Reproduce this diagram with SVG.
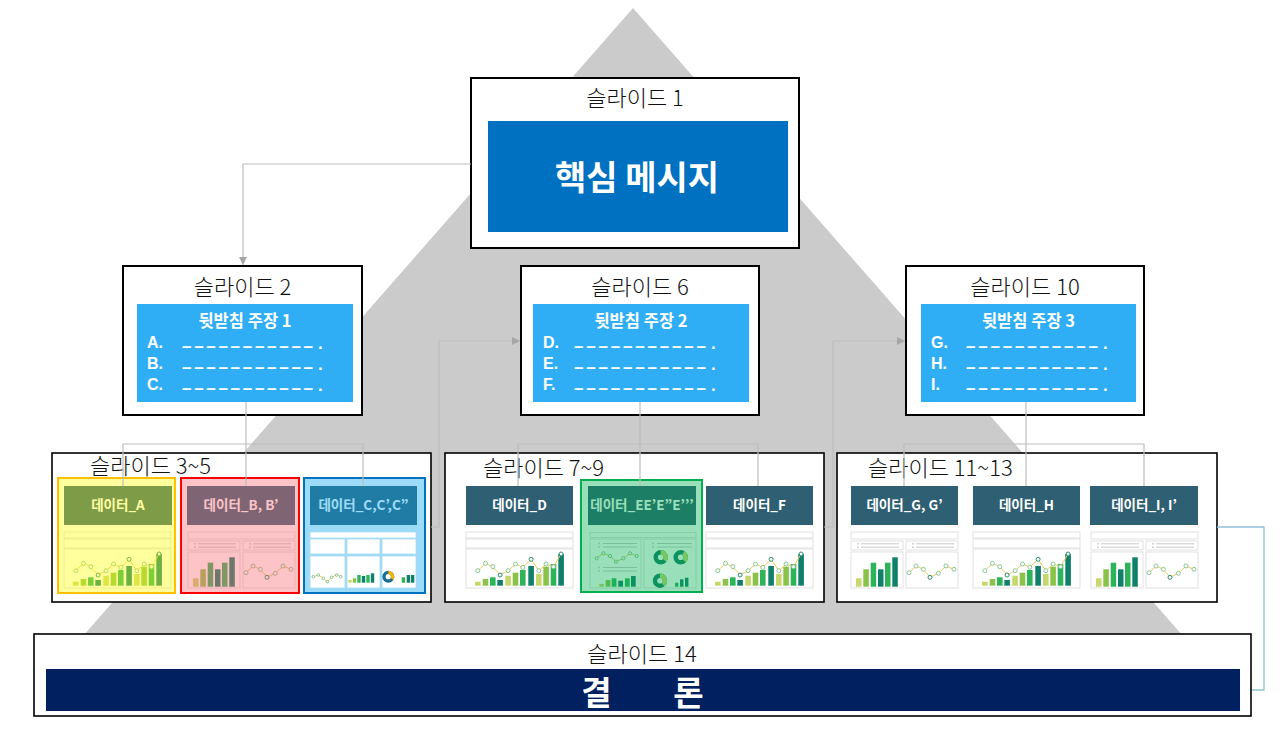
<svg xmlns="http://www.w3.org/2000/svg" xmlns:xlink="http://www.w3.org/1999/xlink" width="1280" height="736" viewBox="0 0 1280 736">
<style>
.kr{font-family:"Noto Sans CJK KR","Noto Sans",sans-serif}
.lbl{font-family:"Noto Sans CJK KR","Noto Sans",sans-serif;font-size:22px;font-weight:300;fill:#111}
.mid{text-anchor:middle}
.box{fill:#fff;stroke:#000;stroke-width:2}
.box2{fill:#fff;stroke:#000;stroke-width:1.6}
.sub{fill:#30AEF5}
.st{font-family:"Noto Sans CJK KR","Noto Sans",sans-serif;font-size:16.5px;font-weight:700;fill:#fff}
.ab{font-family:"Liberation Sans",Arial,sans-serif;font-size:16px;font-weight:700;fill:#fff}
.dash{font-family:"Liberation Sans",sans-serif;font-size:17px;font-weight:700;fill:#fff}
.hdr{fill:#2F5F73}
.ht{font-family:"Noto Sans CJK KR","Noto Sans",sans-serif;font-size:13.5px;font-weight:700;fill:#fff;text-anchor:middle}
.tb{fill:#fff;stroke:#DADADA;stroke-width:0.8}
.cell{fill:#fff;stroke:#A9DCF2;stroke-width:0.8}
.li{stroke:#BDBDBD;stroke-width:0.8}
.dot{fill:#D0D0D0}
.lime{fill:#C6D86B}
.grn{fill:#8BC34A}
.brt{fill:#2DB45A}
.teal{fill:#11806A}
.ln{fill:none;stroke:#F2C94C;stroke-width:1}
.cc{fill:#fff;stroke:#7CC08E;stroke-width:0.9}
.conn{fill:none;stroke:#BDBDBD;stroke-width:1.2}
</style>
<defs>
<marker id="arr" markerUnits="userSpaceOnUse" markerWidth="8" markerHeight="8" refX="8" refY="4" orient="auto">
<path d="M0,0 L8,4 L0,8 z" fill="#A6A6A6"/>
</marker>
<g id="combo">
<rect class="tb" x="0" y="1" width="107" height="6"/>
<rect class="tb" x="0" y="8" width="107" height="9"/>
<rect class="tb" x="0" y="18" width="107" height="39"/>
<rect class="lime" x="9" y="50.7" width="5.6" height="4"/>
<rect class="grn" x="16.7" y="48" width="5.6" height="6.7"/>
<rect class="brt" x="24" y="46.3" width="5.6" height="8.4"/>
<rect class="teal" x="31.3" y="49" width="5.6" height="5.7"/>
<rect class="lime" x="39.3" y="44.7" width="5.6" height="10"/>
<rect class="grn" x="46.7" y="41.7" width="5.6" height="13"/>
<rect class="brt" x="54" y="39" width="5.6" height="15.7"/>
<rect class="teal" x="62.3" y="35" width="5.6" height="19.7"/>
<rect class="lime" x="70" y="43" width="5.6" height="11.7"/>
<rect class="grn" x="77.3" y="35.7" width="5.6" height="19"/>
<rect class="brt" x="84.7" y="33" width="5.6" height="21.7"/>
<rect class="teal" x="92.3" y="23" width="5.6" height="31.7"/>
<polyline class="ln" points="11.8,39.7 19.5,32.3 26.8,35.7 34.1,44 42.1,39.7 49.5,33 56.8,36.3 65.1,28.3 72.8,39.7 80.1,33 87.5,35.7 95.1,23"/>
<g class="cc">
<circle cx="11.8" cy="39.7" r="2"/><circle cx="19.5" cy="32.3" r="2"/><circle cx="26.8" cy="35.7" r="2"/><circle cx="34.1" cy="44" r="2" stroke="#11806A"/><circle cx="42.1" cy="39.7" r="2"/><circle cx="49.5" cy="33" r="2"/><circle cx="56.8" cy="36.3" r="2"/><circle cx="65.1" cy="28.3" r="2" stroke="#11806A"/><circle cx="72.8" cy="39.7" r="2"/><circle cx="80.1" cy="33" r="2"/><circle cx="87.5" cy="35.7" r="2"/><circle cx="95.1" cy="23" r="2" stroke="#11806A"/>
</g>
</g>
<g id="split">
<rect class="tb" x="0" y="0" width="107" height="7"/>
<rect class="tb" x="0" y="9" width="52" height="9"/>
<rect class="tb" x="55" y="9" width="52" height="9"/>
<rect class="tb" x="0" y="20" width="52" height="36"/>
<rect class="tb" x="55" y="20" width="52" height="36"/>
<circle class="dot" cx="7" cy="11.8" r="1"/><circle class="dot" cx="7" cy="15.2" r="1"/>
<line class="li" x1="10" y1="11.8" x2="48" y2="11.8"/><line class="li" x1="10" y1="15.2" x2="48" y2="15.2"/>
<circle class="dot" cx="62" cy="11.8" r="1"/><circle class="dot" cx="62" cy="15.2" r="1"/>
<line class="li" x1="65" y1="11.8" x2="103" y2="11.8"/><line class="li" x1="65" y1="15.2" x2="103" y2="15.2"/>
<rect class="lime" x="5" y="46.3" width="5.5" height="8.4"/>
<rect class="grn" x="12.3" y="37.3" width="5.5" height="17.4"/>
<rect class="brt" x="19.7" y="30.7" width="5.5" height="24"/>
<rect class="teal" x="27" y="37.3" width="5.5" height="17.4"/>
<rect class="brt" x="34" y="30.7" width="5.5" height="24"/>
<rect class="teal" x="41.3" y="25.3" width="5.5" height="29.4"/>
<polyline class="ln" points="58,40.7 65,34 72.3,37.3 79,45.3 87.3,41.3 95,34 103,37.3"/>
<g class="cc">
<circle cx="58" cy="40.7" r="2"/><circle cx="65" cy="34" r="2"/><circle cx="72.3" cy="37.3" r="2"/><circle cx="79" cy="45.3" r="2" stroke="#11806A"/><circle cx="87.3" cy="41.3" r="2"/><circle cx="95" cy="34" r="2"/><circle cx="103" cy="37.3" r="2"/>
</g>
</g>
</defs>

<polygon id="pyramid" points="633,8 83,636 1183,636" fill="#CCCBCC"/>

<g id="slide1">
<rect class="box" x="471" y="78" width="328" height="170"/>
<text class="lbl mid" x="635" y="106">슬라이드 1</text>
<rect x="488" y="121" width="300" height="111" fill="#0070C0"/>
<text class="kr mid" x="637" y="190" font-size="34" font-weight="700" fill="#fff">핵심 메시지</text>
</g>

<g id="slide2">
<rect class="box" x="123" y="266" width="239" height="149"/>
<text class="lbl mid" x="242.5" y="295">슬라이드 2</text>
<rect class="sub" x="137" y="304" width="216" height="98"/>
<text class="st mid" x="245" y="327">뒷받침 주장 1</text>
<text class="ab" x="147" y="348">A.</text>
<text class="ab" x="147" y="369">B.</text>
<text class="ab" x="147" y="390">C.</text>
<text class="dash" xml:space="preserve"><tspan x="182" y="352" textLength="131" lengthAdjust="spacing">– – – – – – – – – – –</tspan><tspan x="318" y="349">.</tspan></text>
<text class="dash" xml:space="preserve"><tspan x="182" y="373" textLength="131" lengthAdjust="spacing">– – – – – – – – – – –</tspan><tspan x="318" y="370">.</tspan></text>
<text class="dash" xml:space="preserve"><tspan x="182" y="394" textLength="131" lengthAdjust="spacing">– – – – – – – – – – –</tspan><tspan x="318" y="391">.</tspan></text>
</g>

<g id="slide6">
<rect class="box" x="521" y="266" width="238" height="149"/>
<text class="lbl mid" x="640" y="295">슬라이드 6</text>
<rect class="sub" x="533" y="304" width="216" height="98"/>
<text class="st mid" x="641" y="327">뒷받침 주장 2</text>
<text class="ab" x="543" y="348">D.</text>
<text class="ab" x="543" y="369">E.</text>
<text class="ab" x="543" y="390">F.</text>
<text class="dash" xml:space="preserve"><tspan x="574" y="352" textLength="132" lengthAdjust="spacing">– – – – – – – – – – –</tspan><tspan x="711" y="349">.</tspan></text>
<text class="dash" xml:space="preserve"><tspan x="574" y="373" textLength="132" lengthAdjust="spacing">– – – – – – – – – – –</tspan><tspan x="711" y="370">.</tspan></text>
<text class="dash" xml:space="preserve"><tspan x="574" y="394" textLength="132" lengthAdjust="spacing">– – – – – – – – – – –</tspan><tspan x="711" y="391">.</tspan></text>
</g>

<g id="slide10">
<rect class="box" x="906" y="266" width="238" height="149"/>
<text class="lbl mid" x="1025" y="295">슬라이드 10</text>
<rect class="sub" x="921" y="304" width="215" height="98"/>
<text class="st mid" x="1028.5" y="327">뒷받침 주장 3</text>
<text class="ab" x="931" y="348">G.</text>
<text class="ab" x="931" y="369">H.</text>
<text class="ab" x="931" y="390">I.</text>
<text class="dash" xml:space="preserve"><tspan x="966" y="352" textLength="132" lengthAdjust="spacing">– – – – – – – – – – –</tspan><tspan x="1103" y="349">.</tspan></text>
<text class="dash" xml:space="preserve"><tspan x="966" y="373" textLength="132" lengthAdjust="spacing">– – – – – – – – – – –</tspan><tspan x="1103" y="370">.</tspan></text>
<text class="dash" xml:space="preserve"><tspan x="966" y="394" textLength="132" lengthAdjust="spacing">– – – – – – – – – – –</tspan><tspan x="1103" y="391">.</tspan></text>
</g>

<g id="slides3-5">
<rect class="box2" x="52" y="453" width="379" height="149"/>
<text class="lbl" x="90" y="474">슬라이드 3~5</text>
<g id="dataA">
<rect x="58" y="478" width="117" height="115" fill="#fff"/>
<rect class="hdr" x="64" y="486" width="108" height="39"/>
<text class="ht" x="118" y="510">데이터_A</text>
<use xlink:href="#combo" x="64" y="531"/>
<rect x="58" y="478" width="117" height="115" fill="#FFFF00" fill-opacity="0.38" stroke="#FFC000" stroke-width="2"/>
</g>
<g id="dataB">
<rect x="181" y="478" width="118" height="115" fill="#fff"/>
<rect class="hdr" x="187" y="486" width="108" height="39"/>
<text class="ht" x="241" y="510">데이터_B, B’</text>
<use xlink:href="#split" x="188" y="532"/>
<rect x="181" y="478" width="118" height="115" fill="#F76B73" fill-opacity="0.4" stroke="#FF0000" stroke-width="2"/>
</g>
<g id="dataC">
<rect x="304" y="478" width="121" height="115" fill="#fff"/>
<rect class="hdr" x="310" y="486" width="107" height="39"/>
<text class="ht" x="363.5" y="510">데이터_C,C’,C”</text>
<rect x="304" y="478" width="121" height="115" fill="#0AA7F0" fill-opacity="0.4" stroke="#0070C0" stroke-width="2"/>
<rect class="cell" x="310" y="532" width="106" height="6"/>
<rect class="cell" x="310" y="539" width="35" height="15"/>
<rect class="cell" x="347" y="539" width="33" height="15"/>
<rect class="cell" x="382" y="539" width="34" height="15"/>
<rect class="cell" x="310" y="556" width="35" height="32"/>
<rect class="cell" x="347" y="556" width="33" height="32"/>
<rect class="cell" x="382" y="556" width="34" height="32"/>
<polyline class="ln" points="313.3,576.7 318.3,575 323.3,578.3 327.3,581.7 331.7,577.3 336.7,575 340.7,576.7"/>
<g class="cc"><circle cx="313.3" cy="576.7" r="1.3"/><circle cx="318.3" cy="575" r="1.3"/><circle cx="323.3" cy="578.3" r="1.3"/><circle cx="327.3" cy="581.7" r="1.3"/><circle cx="331.7" cy="577.3" r="1.3"/><circle cx="336.7" cy="575" r="1.3"/><circle cx="340.7" cy="576.7" r="1.3"/></g>
<rect class="lime" x="348.3" y="580" width="3.4" height="2.7"/>
<rect class="grn" x="352.8" y="578.3" width="3.4" height="4.4"/>
<rect class="brt" x="357.3" y="575" width="3.4" height="7.7"/>
<rect class="teal" x="361.8" y="576" width="3.4" height="6.7"/>
<rect class="brt" x="366.3" y="575" width="3.4" height="7.7"/>
<rect class="teal" x="370.8" y="573.3" width="3.4" height="9.4"/>
<circle cx="388.3" cy="576.7" r="4.3" fill="none" stroke="#1B6E93" stroke-width="3.4"/>
<circle cx="388.3" cy="576.7" r="4.3" fill="none" stroke="#F5B400" stroke-width="3.4" stroke-dasharray="9 18" transform="rotate(-90 388.3 576.7)"/>
<rect class="brt" x="401.7" y="577.3" width="3.4" height="5.4"/>
<rect class="teal" x="406.7" y="575" width="3.4" height="7.7"/>
<rect class="teal" x="410.9" y="575" width="3.4" height="7.7"/>
</g>
</g>

<g id="slides7-9">
<rect class="box2" x="445" y="453" width="379" height="149"/>
<text class="lbl" x="483" y="476">슬라이드 7~9</text>
<g id="dataD">
<rect class="hdr" x="466" y="486" width="107" height="39"/>
<text class="ht" x="519.5" y="510">데이터_D</text>
<use xlink:href="#combo" x="466" y="531"/>
</g>
<g id="dataE">
<rect x="581" y="480" width="121" height="112" fill="#fff"/>
<rect class="hdr" x="588" y="486" width="108" height="39"/>
<text class="ht" x="642" y="510">데이터_EE’E”E’’’</text>
<rect class="tb" x="590" y="532.5" width="106" height="5"/>
<rect class="tb" x="590" y="539" width="51" height="49"/>
<rect class="tb" x="644" y="539" width="52" height="49"/>
<circle class="dot" cx="599" cy="543.5" r="1"/><circle class="dot" cx="599" cy="547" r="1"/>
<line class="li" x1="603" y1="543.5" x2="637" y2="543.5"/><line class="li" x1="603" y1="547" x2="637" y2="547"/>
<polyline class="ln" points="596.7,558.3 603.3,553.3 610,556 616,561.7 623.3,558.3 630,553.3 636.7,556"/>
<g class="cc"><circle cx="596.7" cy="558.3" r="1.6"/><circle cx="603.3" cy="553.3" r="1.6"/><circle cx="610" cy="556" r="1.6"/><circle cx="616" cy="561.7" r="1.6"/><circle cx="623.3" cy="558.3" r="1.6"/><circle cx="630" cy="553.3" r="1.6"/><circle cx="636.7" cy="556" r="1.6"/></g>
<circle class="dot" cx="599" cy="567.5" r="1"/><circle class="dot" cx="599" cy="571" r="1"/>
<line class="li" x1="603" y1="567.5" x2="637" y2="567.5"/><line class="li" x1="603" y1="571" x2="637" y2="571"/>
<rect class="lime" x="599.3" y="584" width="4.7" height="2.7"/>
<rect class="grn" x="605.7" y="580" width="4.7" height="6.7"/>
<rect class="brt" x="611.7" y="578.3" width="4.7" height="8.4"/>
<rect class="teal" x="618.3" y="580.7" width="4.7" height="6"/>
<rect class="brt" x="625" y="578.3" width="4.7" height="8.4"/>
<rect class="teal" x="631" y="576" width="4.7" height="10.7"/>
<circle class="dot" cx="653" cy="543.5" r="1"/><circle class="dot" cx="653" cy="547" r="1"/>
<line class="li" x1="657" y1="543.5" x2="692" y2="543.5"/><line class="li" x1="657" y1="547" x2="692" y2="547"/>
<g fill="none" stroke-width="4.4">
<circle cx="660.7" cy="557.3" r="5" stroke="#11806A"/>
<circle cx="660.7" cy="557.3" r="5" stroke="#C6D86B" stroke-dasharray="11 21" transform="rotate(-90 660.7 557.3)"/>
<circle cx="680.7" cy="557.3" r="5" stroke="#11806A"/>
<circle cx="680.7" cy="557.3" r="5" stroke="#C6D86B" stroke-dasharray="9 23" transform="rotate(-60 680.7 557.3)"/>
<circle cx="660" cy="580.7" r="5" stroke="#11806A"/>
<circle cx="660" cy="580.7" r="5" stroke="#C6D86B" stroke-dasharray="12 20" transform="rotate(-90 660 580.7)"/>
</g>
<rect class="brt" x="675" y="582.7" width="3.4" height="4"/>
<rect class="teal" x="680" y="579.3" width="3.4" height="7.4"/>
<rect class="teal" x="685" y="577.7" width="3.4" height="9"/>
<rect x="581" y="480" width="121" height="112" fill="#00B050" fill-opacity="0.4" stroke="#00B050" stroke-width="2"/>
</g>
<g id="dataF">
<rect class="hdr" x="706" y="486" width="107" height="39"/>
<text class="ht" x="759.5" y="510">데이터_F</text>
<use xlink:href="#combo" x="706" y="531"/>
</g>
</g>

<g id="slides11-13">
<rect class="box2" x="837" y="453" width="380" height="149"/>
<text class="lbl" x="868" y="476">슬라이드 11~13</text>
<g id="dataG">
<rect class="hdr" x="851" y="486" width="107" height="39"/>
<text class="ht" x="904.5" y="510">데이터_G, G’</text>
<use xlink:href="#split" x="851" y="532"/>
</g>
<g id="dataH">
<rect class="hdr" x="973" y="486" width="107" height="39"/>
<text class="ht" x="1026.5" y="510">데이터_H</text>
<use xlink:href="#combo" x="973" y="531"/>
</g>
<g id="dataI">
<rect class="hdr" x="1090" y="486" width="108" height="39"/>
<text class="ht" x="1144" y="510">데이터_I, I’</text>
<use xlink:href="#split" x="1091" y="532"/>
</g>
</g>

<g id="slide14">
<rect class="box2" x="34" y="634" width="1217" height="82"/>
<text class="lbl mid" x="642" y="662">슬라이드 14</text>
<rect x="46" y="669" width="1194" height="42" fill="#002060"/>
<text class="kr mid" y="705" font-size="33" font-weight="700" fill="#fff"><tspan x="596.5">결</tspan><tspan x="688.5">론</tspan></text>
</g>

<g id="connectors">
<path class="conn" d="M471,164 H243 V265" marker-end="url(#arr)"/>
<path class="conn" d="M246,402 V486 M123,486 V444 H363 V486"/>
<path class="conn" d="M640,402 V486 M518,486 V444 H758 V486"/>
<path class="conn" d="M1026,402 V486 M904,486 V444 H1144 V486"/>
<path class="conn" d="M431,527 H439 V341 H520" marker-end="url(#arr)"/>
<path class="conn" d="M824,527 H833 V341 H905" marker-end="url(#arr)"/>
<path d="M1217,527 H1264 V690 H1252" fill="none" stroke="#8EC1D8" stroke-width="1.3"/>
</g>
</svg>
